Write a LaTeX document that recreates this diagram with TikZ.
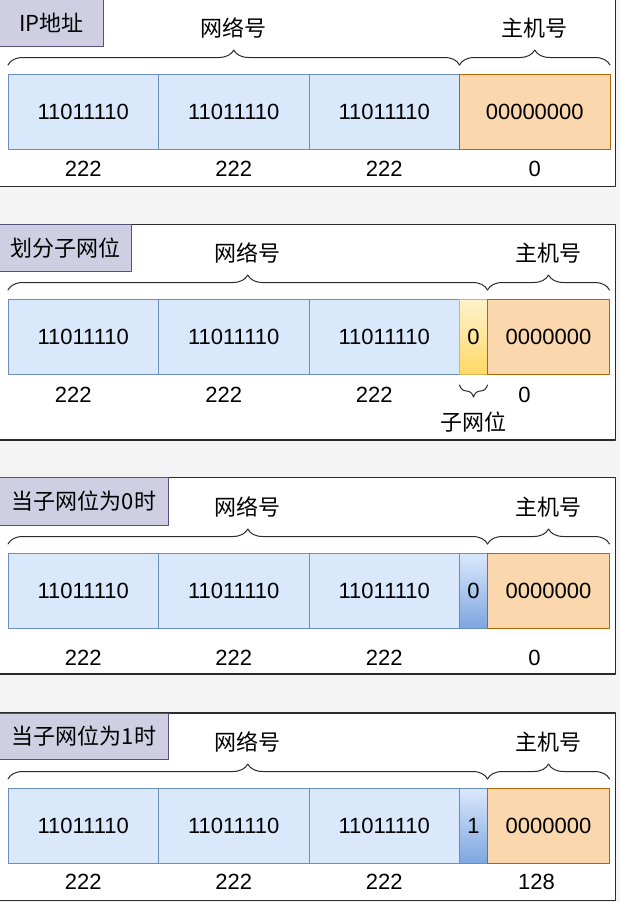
\documentclass[tikz,border=0pt]{standalone}
\usepackage{fontspec}
\setmainfont{Liberation Sans}
\newfontfamily\cjk{Noto Sans CJK SC}
\usetikzlibrary{positioning,decorations.pathreplacing}
\definecolor{bggray}{HTML}{F4F4F4}
\definecolor{panelline}{HTML}{2B2B2B}
\definecolor{titlefill}{HTML}{D0CEE2}
\definecolor{titleline}{HTML}{56517E}
\definecolor{netfill}{HTML}{DAE8FC}
\definecolor{netline}{HTML}{6C8EBF}
\definecolor{hostfill}{HTML}{FAD7AC}
\definecolor{hostline}{HTML}{B46504}
\definecolor{subtop}{HTML}{FFF2CC}
\definecolor{subbot}{HTML}{FFD966}
\definecolor{subline}{HTML}{D6B656}
\definecolor{bluebot}{HTML}{7EA6E0}
\tikzset{
  panel/.style={draw=panelline, fill=white, line width=1.3pt},
  titlebox/.style={draw=titleline, fill=titlefill, line width=1pt, anchor=north west, inner sep=0pt, font=\fontsize{22}{26}\selectfont\cjk},
  netcell/.style={draw=netline, fill=netfill, line width=1pt, minimum width=150.5pt, minimum height=75pt, inner sep=0pt, outer sep=0pt},
  hostcell/.style={netcell, draw=hostline, fill=hostfill, minimum width=122pt},
  hostfull/.style={hostcell, minimum width=150.5pt},
  subcell/.style={netcell, draw=subline, top color=subtop, bottom color=subbot, minimum width=28pt},
  subblue/.style={netcell, top color=netfill, bottom color=bluebot, minimum width=28pt},
  partbrace/.style={decorate, decoration={brace, amplitude=15pt}, draw=panelline, line width=1pt},
  bitbrace/.style={decorate, decoration={brace, amplitude=12pt}, draw=panelline, line width=1pt},
  part/.style={font=\fontsize{22}{26}\selectfont\cjk},
}
\begin{document}
\begin{tikzpicture}[x=1pt, y=-1pt, font=\fontsize{22}{26}\selectfont, line join=round, line cap=round]
\useasboundingbox (0,0) rectangle (620,902);
\fill[bggray] (0,0) rectangle (620,902);
% IP地址
\draw[panel] (-2,-2) rectangle (615.5,186.5);
\node[titlebox, minimum width=104pt, minimum height=47pt] (t1) at (-1,-1) {IP地址};
\node[netcell, anchor=north west] (p1a) at (8,74) {11011110};
\node[netcell, right=0pt of p1a] (p1b) {11011110};
\node[netcell, right=0pt of p1b] (p1c) {11011110};
\node[hostfull, right=0pt of p1c] (p1h) {00000000};
\draw[partbrace] ([yshift=9pt]p1a.north west) -- ([yshift=9pt]p1c.north east) node[part, midway, yshift=37pt] (n1) {网络号};
\draw[partbrace] ([yshift=9pt]p1h.north west) -- ([yshift=9pt]p1h.north east) node[part, midway, yshift=37pt] (h1) {主机号};
\node (d1a) at ([yshift=-20pt]p1a.south) {222};
\node (d1b) at ([yshift=-20pt]p1b.south) {222};
\node (d1c) at ([yshift=-20pt]p1c.south) {222};
\node (d1h) at ([yshift=-20pt]p1h.south) {0};
% 划分子网位
\draw[panel] (-2,224.5) rectangle (615.5,440);
\node[titlebox, minimum width=132pt, minimum height=47pt] (t2) at (-1,224) {划分子网位};
\node[netcell, anchor=north west] (p2a) at (8,299) {11011110};
\node[netcell, right=0pt of p2a] (p2b) {11011110};
\node[netcell, right=0pt of p2b] (p2c) {11011110};
\node[subcell, right=0pt of p2c] (p2s) {0};
\node[hostcell, right=0pt of p2s] (p2h) {0000000};
\draw[partbrace] ([yshift=9pt]p2a.north west) -- ([yshift=9pt]p2s.north east) node[part, midway, yshift=37pt] (n2) {网络号};
\draw[partbrace] ([yshift=9pt]p2h.north west) -- ([yshift=9pt]p2h.north east) node[part, midway, yshift=37pt] (h2) {主机号};
\draw[bitbrace] ([yshift=-11pt]p2s.south east) -- ([yshift=-11pt]p2s.south west) node[part, midway, yshift=-37pt] (s2) {子网位};
\node (d2a) at ([xshift=-10pt,yshift=-21pt]p2a.south) {222};
\node (d2b) at ([xshift=-10pt,yshift=-21pt]p2b.south) {222};
\node (d2c) at ([xshift=-10pt,yshift=-21pt]p2c.south) {222};
\node (d2h) at ([xshift=-24pt,yshift=-21pt]p2h.south) {0};
% 当子网位为0时
\draw[panel] (-2,477.5) rectangle (615.5,674);
\node[titlebox, minimum width=169pt, minimum height=48pt] (t3) at (-1,477) {当子网位为0时};
\node[netcell, anchor=north west] (p3a) at (8,553) {11011110};
\node[netcell, right=0pt of p3a] (p3b) {11011110};
\node[netcell, right=0pt of p3b] (p3c) {11011110};
\node[subblue, right=0pt of p3c] (p3s) {0};
\node[hostcell, right=0pt of p3s] (p3h) {0000000};
\draw[partbrace] ([yshift=9pt]p3a.north west) -- ([yshift=9pt]p3s.north east) node[part, midway, yshift=37pt] (n3) {网络号};
\draw[partbrace] ([yshift=9pt]p3h.north west) -- ([yshift=9pt]p3h.north east) node[part, midway, yshift=37pt] (h3) {主机号};
\node (d3a) at ([yshift=-30pt]p3a.south) {222};
\node (d3b) at ([yshift=-30pt]p3b.south) {222};
\node (d3c) at ([yshift=-30pt]p3c.south) {222};
\node (d3h) at ([xshift=-14pt,yshift=-30pt]p3h.south) {0};
% 当子网位为1时
\draw[panel] (-2,713) rectangle (615.5,900.5);
\node[titlebox, minimum width=169pt, minimum height=46pt] (t4) at (-1,713) {当子网位为1时};
\node[netcell, anchor=north west] (p4a) at (8,788) {11011110};
\node[netcell, right=0pt of p4a] (p4b) {11011110};
\node[netcell, right=0pt of p4b] (p4c) {11011110};
\node[subblue, right=0pt of p4c] (p4s) {1};
\node[hostcell, right=0pt of p4s] (p4h) {0000000};
\draw[partbrace] ([yshift=9pt]p4a.north west) -- ([yshift=9pt]p4s.north east) node[part, midway, yshift=37pt] (n4) {网络号};
\draw[partbrace] ([yshift=9pt]p4h.north west) -- ([yshift=9pt]p4h.north east) node[part, midway, yshift=37pt] (h4) {主机号};
\node (d4a) at ([yshift=-19pt]p4a.south) {222};
\node (d4b) at ([yshift=-19pt]p4b.south) {222};
\node (d4c) at ([yshift=-19pt]p4c.south) {222};
\node (d4h) at ([xshift=-12pt,yshift=-19pt]p4h.south) {128};
\end{tikzpicture}
\end{document}
